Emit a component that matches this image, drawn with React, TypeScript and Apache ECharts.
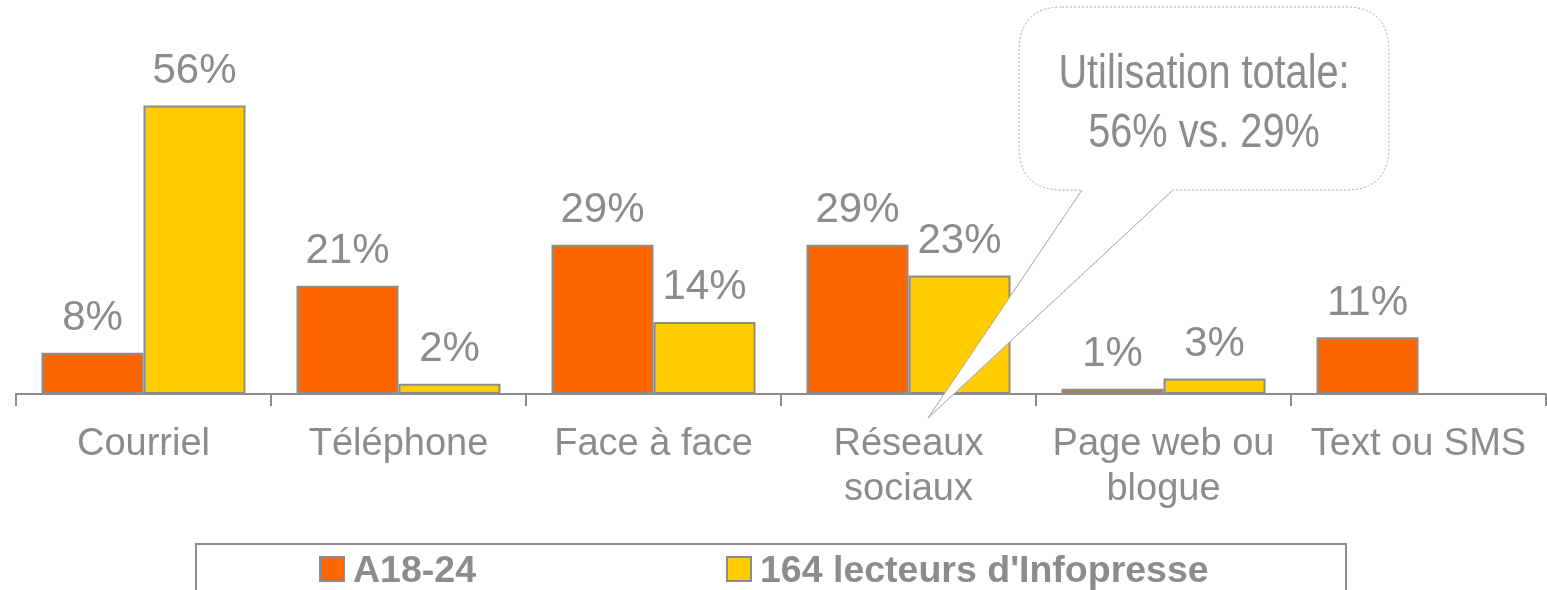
import React, { useEffect, useRef } from "react";
import * as echarts from "echarts";

const categories = ["Courriel", "Téléphone", "Face à face", "Réseaux\nsociaux", "Page web ou\nblogue", "Text ou SMS"];
const seriesNames = ["A18-24", "164 lecteurs d'Infopresse"];
const youngValues: (number | null)[] = [8, 21, 29, 29, 1, 11];
const readerValues: (number | null)[] = [56, 2, 14, 23, 3, null];
const calloutLines = ["Utilisation totale:", "56% vs. 29%"];

const GRAY = "#8c8c8c";
const FONT = "'Liberation Sans', Arial, sans-serif";

const calloutPath =
  "M1062 7 L1346 7 Q1389 7 1389 52 L1389 146 Q1389 190 1346 190 L1173 190 L928 418 L1082 190 L1062 190 Q1019 190 1019 146 L1019 52 Q1019 7 1062 7 Z";

export default function App() {
  const ref = useRef<HTMLDivElement>(null);
  useEffect(() => {
    if (!ref.current) return;
    echarts.graphic.registerShape("callout", echarts.graphic.extendPath(calloutPath, {}) as any);
    const chart = echarts.init(ref.current, null, { renderer: "svg" });
    const label = {
      show: true,
      position: "top",
      distance: 16,
      color: GRAY,
      fontSize: 42,
      fontFamily: FONT,
      formatter: (p: any) => p.value + "%",
    };
    chart.setOption({
      animation: false,
      textStyle: { fontFamily: FONT },
      grid: { left: 16, right: 1, top: 85, bottom: 196, containLabel: false },
      xAxis: {
        type: "category",
        data: categories,
        axisLine: { show: true, lineStyle: { color: GRAY, width: 2 } },
        axisTick: { show: true, length: 12, interval: 0, alignWithLabel: false, lineStyle: { color: GRAY, width: 2 } },
        axisLabel: { color: GRAY, fontSize: 38, lineHeight: 45, margin: 25, fontFamily: FONT, interval: 0 },
        splitLine: { show: false },
      },
      yAxis: { type: "value", min: 0, max: 60, show: false, splitLine: { show: false } },
      legend: {
        left: 319,
        top: 550,
        padding: 0,
        itemGap: 250,
        itemWidth: 24,
        itemHeight: 24,
        icon: "rect",
        textStyle: { color: GRAY, fontSize: 37.5, fontWeight: "bold", fontFamily: FONT, padding: [0, 0, 0, 4] },
        data: seriesNames,
      },
      series: [
        {
          name: seriesNames[0],
          type: "bar",
          data: youngValues,
          barGap: "0%",
          barCategoryGap: "20%",
          itemStyle: { color: "#ff6600", borderColor: GRAY, borderWidth: 2 },
          label,
        },
        {
          name: seriesNames[1],
          type: "bar",
          data: readerValues,
          barGap: "0%",
          barCategoryGap: "20%",
          itemStyle: { color: "#ffcc00", borderColor: GRAY, borderWidth: 2 },
          label,
        },
      ],
      graphic: [
        {
          type: "rect",
          z: 10,
          shape: { x: 196, y: 544, width: 1150, height: 80 },
          style: { fill: "none", stroke: GRAY, lineWidth: 2 },
        },
        {
          type: "callout",
          z: 100,
          x: 0,
          y: 0,
          style: { fill: "#ffffff", stroke: "#a8a8a8", lineWidth: 1, lineDash: [2, 2] },
        },
        {
          type: "polyline",
          z: 101,
          shape: { points: [[1082, 190], [928, 418], [1173, 190]] },
          style: { fill: "none", stroke: "#b0b0b0", lineWidth: 1 },
        },
        {
          type: "text",
          z: 102,
          x: 1204,
          y: 71,
          scaleX: 0.81,
          style: { text: calloutLines[0], fill: GRAY, font: `49px ${FONT}`, align: "center", verticalAlign: "middle" },
        },
        {
          type: "text",
          z: 102,
          x: 1204,
          y: 130,
          scaleX: 0.81,
          style: { text: calloutLines[1], fill: GRAY, font: `49px ${FONT}`, align: "center", verticalAlign: "middle" },
        },
      ],
    });
    return () => chart.dispose();
  }, []);
  return <div ref={ref} style={{ position: "fixed", left: 0, top: 0, width: 1547, height: 590 }} />;
}
